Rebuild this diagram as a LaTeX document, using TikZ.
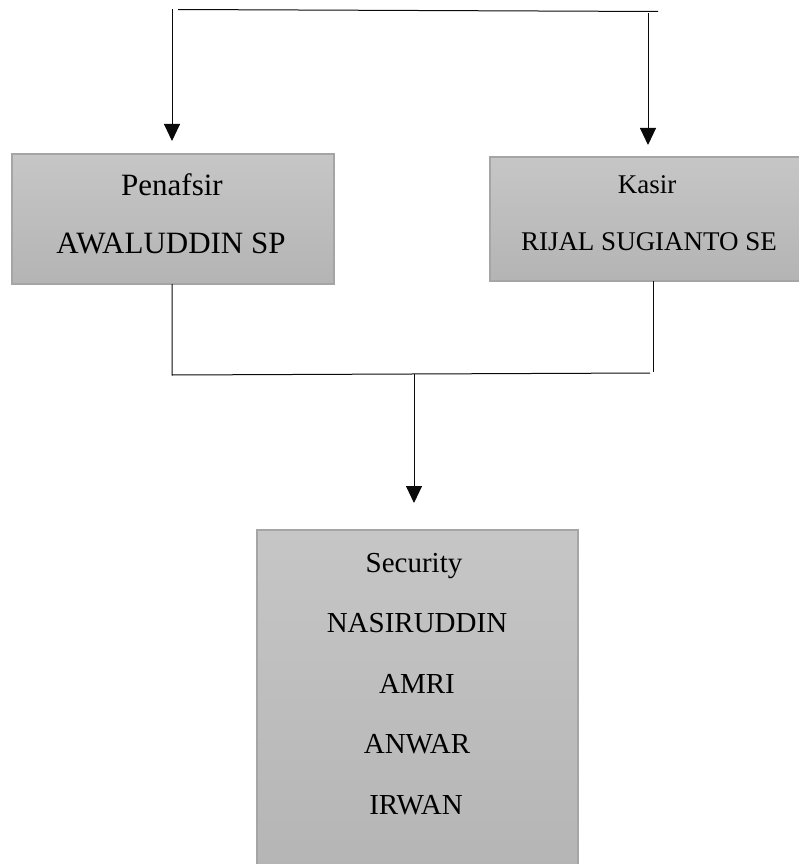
\documentclass[tikz,border=0pt]{standalone}
\usepackage{fontspec}
\setmainfont{Liberation Serif}
\usetikzlibrary{arrows.meta}
\definecolor{boxtop}{RGB}{198,198,198}
\definecolor{boxbot}{RGB}{180,180,180}
\definecolor{boxline}{RGB}{165,165,165}
\definecolor{wire}{RGB}{10,10,10}
\tikzset{
  orgbox/.style={draw=boxline, line width=1.2pt, top color=boxtop, bottom color=boxbot, inner sep=0pt, outer sep=0pt},
  wireline/.style={draw=wire, line width=1pt},
  arrowline/.style={wireline, -{Triangle[width=16pt,length=17pt]}},
  bigtxt/.style={anchor=base, font=\fontsize{31}{31}\selectfont},
  midtxt/.style={anchor=base, font=\fontsize{27}{27}\selectfont},
  sectxt/.style={anchor=base, font=\fontsize{29}{29}\selectfont},
}
\begin{document}
\begin{tikzpicture}[x=1pt,y=-1pt]
\useasboundingbox (0,0) rectangle (799,864);
\clip (0,0) rectangle (799,864);
% boxes
\node[orgbox, minimum width=322pt, minimum height=130pt] (pen) at (173,219) {};
\node[orgbox, minimum width=320pt, minimum height=124pt] (kas) at (650,219) {};
\node[orgbox, minimum width=321pt, minimum height=360pt] (sec) at (417.5,710) {};
% texts
\node[bigtxt] (penT) at (172,195) {Penafsir};
\node[bigtxt] (penN) at (171,253) {AWALUDDIN SP};
\node[midtxt] (kasT) at (647,193) {Kasir};
\node[midtxt] (kasN) at (649,250) {RIJAL SUGIANTO SE};
\node[sectxt] (secT) at (414,572) {Security};
\node[sectxt] (secA) at (417,632) {NASIRUDDIN};
\node[sectxt] (secB) at (417,693) {AMRI};
\node[sectxt] (secC) at (417,753) {ANWAR};
\node[sectxt] (secD) at (416,814) {IRWAN};
% top connectors
\coordinate (tl) at (178,9.5);
\coordinate (tr) at (658,11.5);
\coordinate (la) at (172,9.5);
\coordinate (lt) at (172,141);
\coordinate (ra) at (648,13);
\coordinate (rt) at (648,145);
\draw[wireline] (tl) -- (tr);
\draw[arrowline] (la) -- (lt);
\draw[arrowline] (ra) -- (rt);
% bottom connectors
\coordinate (pb) at (172,375);
\coordinate (kb) at (653,372);
\coordinate (hr) at (650,373);
\coordinate (ms) at (414,374);
\coordinate (mt) at (414,503);
\draw[wireline] (pen.south -| pb) -- (pb) -- (hr);
\draw[wireline] (kas.south -| kb) -- (kb);
\draw[arrowline] (ms) -- (mt);
\end{tikzpicture}
\end{document}
